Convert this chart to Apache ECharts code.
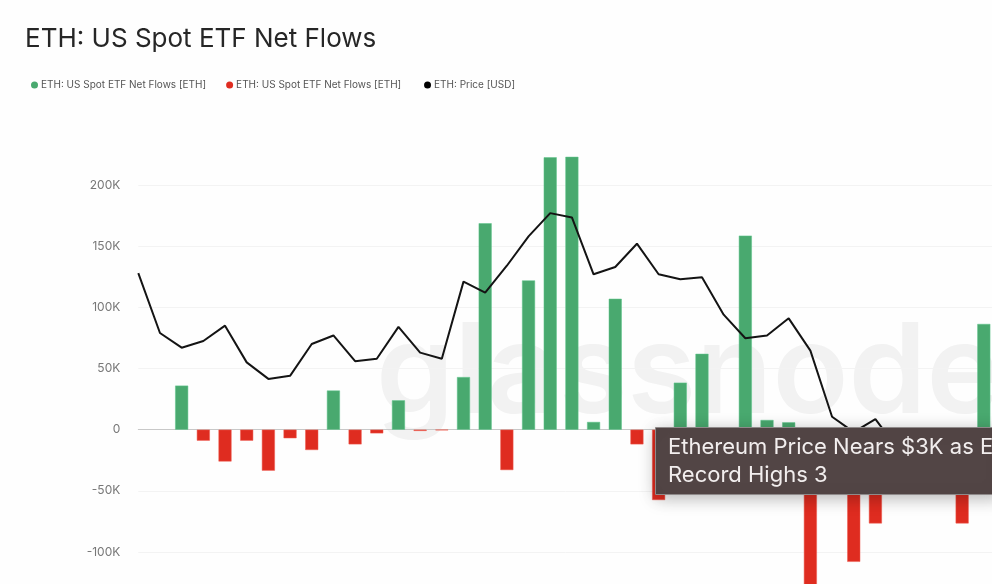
<!DOCTYPE html>
<html>
<head>
<meta charset="utf-8">
<title>ETH: US Spot ETF Net Flows</title>
<style>
    html, body { margin: 0; padding: 0; background: #fefefe; overflow: hidden; }
    #chart { width: 992px; height: 584px; }
</style>
</head>
<body>
<div id="chart"></div>
<script src="https://cdn.jsdelivr.net/npm/echarts@6/dist/echarts.min.js"></script>
<script>
    // no dates visible in the picture, so categories are just week numbers
    var categories = ['W1', 'W2', 'W3', 'W4', 'W5', 'W6', 'W7', 'W8', 'W9', 'W10',
        'W11', 'W12', 'W13', 'W14', 'W15', 'W16', 'W17', 'W18', 'W19', 'W20',
        'W21', 'W22', 'W23', 'W24', 'W25', 'W26', 'W27', 'W28', 'W29', 'W30',
        'W31', 'W32', 'W33', 'W34', 'W35', 'W36', 'W37', 'W38', 'W39', 'W40', 'W41'];

    var inflows = [null, null, 36000, null, null, null, null, null, null, 32000,
        null, null, 24000, null, null, 43000, 168700, null, 122000, 222600,
        223000, 6300, 107000, null, null, 38400, 62000, null, 158600, 7900,
        6000, null, null, null, null, null, null, null, null, 86400, null];

    var outflows = [null, null, null, -9000, -26000, -9000, -33500, -7000, -16600, null,
        -12000, -3000, null, -1000, -500, null, null, -33000, null, null,
        null, null, null, -12000, -57500, null, null, null, null, null,
        null, -135000, null, -108000, -76600, null, null, null, -76600, null, null];

    // no price axis in view, so these are read against the left scale
    var price = [128000, 79000, 67000, 72500, 85000, 55000, 41500, 44000, 70000, 77000,
        56000, 58000, 84000, 63000, 58000, 121000, 112000, 134000, 158000, 177000,
        173500, 127000, 133000, 152000, 127000, 123000, 124500, 94000, 74700, 77000,
        91000, 64600, 10600, -2000, 8700, -15000, -22000, -28000, -24000, -18000, -12000];

    var legendNames = ['ETH: US Spot ETF Net Flows [ETH]', 'ETH: US Spot ETF Net Flows [ETH] ', 'ETH: Price [USD]'];

    var chart = echarts.init(document.getElementById('chart'));
    var fontName = 'Inter';

    chart.setOption({
        animation: false,
        backgroundColor: '#fefefe',
        title: {
            text: 'ETH: US Spot ETF Net Flows',
            left: 20,
            top: 21,
            textStyle: { fontFamily: fontName, fontSize: 26, fontWeight: 'normal', color: '#262626' }
        },
        legend: {
            data: legendNames,
            left: 26,
            top: 75,
            icon: 'circle',
            itemWidth: 7,
            itemHeight: 7,
            itemGap: 20,
            itemStyle: { borderWidth: 0 },
            textStyle: { fontFamily: fontName, fontSize: 10, color: '#555555', padding: [0, 0, 0, -2] }
        },
        // the plot runs past the right and bottom edges of the picture
        grid: { left: 138.3, top: 123.8, width: 867.2, height: 489.4, outerBoundsMode: 'none' },
        xAxis: {
            type: 'category',
            data: categories,
            boundaryGap: false,
            axisLine: { lineStyle: { color: '#c8c8c8', width: 1 } },
            axisTick: { show: false },
            axisLabel: { show: false },
            splitLine: { show: false }
        },
        yAxis: {
            type: 'value',
            min: -150000,
            max: 250000,
            interval: 50000,
            axisLine: { show: false },
            axisTick: { show: false },
            axisLabel: {
                showMaxLabel: false,
                margin: 18,
                fontFamily: fontName,
                fontSize: 12,
                color: '#777777',
                formatter: function (v) {
                    return v === 0 ? '0' : v / 1000 + 'K';
                }
            },
            splitLine: { showMaxLine: false, lineStyle: { color: '#f3f3f3', width: 1 } }
        },
        series: [
            {
                name: legendNames[0],
                type: 'bar',
                data: inflows,
                barWidth: 13,
                barGap: '-100%',
                itemStyle: { color: '#49a96f', borderColor: '#5cc48a', borderWidth: 0.5 }
            },
            {
                name: legendNames[1],
                type: 'bar',
                data: outflows,
                barWidth: 13,
                itemStyle: { color: '#df2c20', borderColor: '#ee5a4e', borderWidth: 0.5 }
            },
            {
                name: legendNames[2],
                type: 'line',
                data: price,
                symbol: 'none',
                z: 5,
                itemStyle: { color: '#000000' },
                lineStyle: { color: '#141414', width: 2 }
            }
        ],
        graphic: [
            {
                type: 'text',
                left: 376,
                top: 313,
                z: 0,
                silent: true,
                style: {
                    text: 'glassnode',
                    fontFamily: fontName,
                    fontSize: 125,
                    fontWeight: 600,
                    fill: '#f2f2f2'
                }
            },
            {
                type: 'rect',
                shape: { x: 655.5, y: 427.5, width: 345, height: 67 },
                z: 100,
                style: {
                    fill: '#524545',
                    stroke: '#8f8a8a',
                    lineWidth: 1,
                    shadowBlur: 16,
                    shadowColor: 'rgba(0, 0, 0, 0.28)',
                    shadowOffsetY: 3
                }
            },
            {
                type: 'text',
                x: 668,
                y: 433,
                z: 101,
                style: {
                    text: 'Ethereum Price Nears $3K as E\nRecord Highs 3',
                    fontFamily: fontName,
                    fontSize: 22,
                    lineHeight: 28,
                    fill: '#f2eeee'
                }
            }
        ]
    });
</script>
</body>
</html>
